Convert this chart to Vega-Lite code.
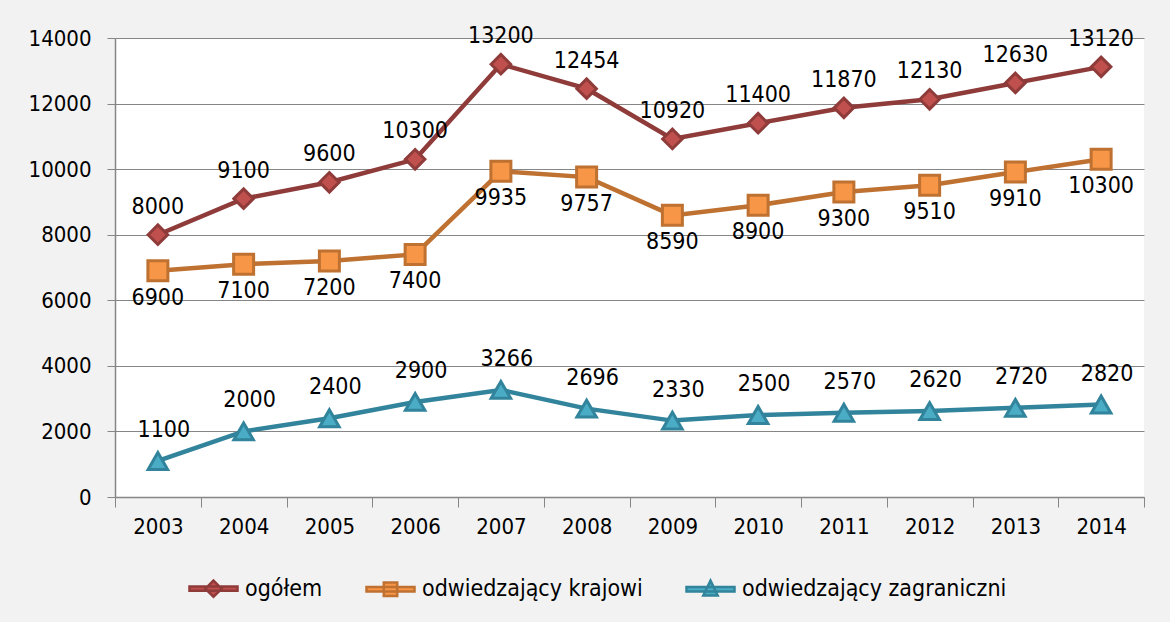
{
  "$schema": "https://vega.github.io/schema/vega-lite/v6.json",
  "width": 1029,
  "height": 459,
  "autosize": {"type": "none"},
  "padding": {"left": 115, "top": 38, "right": 26, "bottom": 125},
  "background": "#f2f2f2",
  "title": {
    "text": "Liczba odwiedzających Muzeum (w tysiącach)",
    "fontSize": 22,
    "fontWeight": "bold",
    "font": "DejaVu Sans Condensed",
    "baseline": "alphabetic",
    "offset": 37,
    "anchor": "middle",
    "dx": -30,
    "color": "#000000"
  },
  "config": {
    "font": "DejaVu Sans Condensed",
    "view": {"fill": "#ffffff", "stroke": null},
    "axis": {
      "labelFont": "DejaVu Sans Condensed",
      "labelFontSize": 22,
      "labelColor": "#000000",
      "domainColor": "#868686",
      "tickColor": "#868686",
      "gridColor": "#868686",
      "gridWidth": 1,
      "domainWidth": 1.5,
      "title": null
    },
    "legend": {
      "labelFont": "DejaVu Sans Condensed",
      "labelFontSize": 23,
      "labelColor": "#000000",
      "labelLimit": 0
    }
  },
  "data": {
    "values": [
      {"year": "2003", "series": "ogółem", "value": 8000},
      {"year": "2004", "series": "ogółem", "value": 9100},
      {"year": "2005", "series": "ogółem", "value": 9600},
      {"year": "2006", "series": "ogółem", "value": 10300},
      {"year": "2007", "series": "ogółem", "value": 13200},
      {"year": "2008", "series": "ogółem", "value": 12454},
      {"year": "2009", "series": "ogółem", "value": 10920},
      {"year": "2010", "series": "ogółem", "value": 11400},
      {"year": "2011", "series": "ogółem", "value": 11870},
      {"year": "2012", "series": "ogółem", "value": 12130},
      {"year": "2013", "series": "ogółem", "value": 12630},
      {"year": "2014", "series": "ogółem", "value": 13120},
      {"year": "2003", "series": "odwiedzający krajowi", "value": 6900},
      {"year": "2004", "series": "odwiedzający krajowi", "value": 7100},
      {"year": "2005", "series": "odwiedzający krajowi", "value": 7200},
      {"year": "2006", "series": "odwiedzający krajowi", "value": 7400},
      {"year": "2007", "series": "odwiedzający krajowi", "value": 9935},
      {"year": "2008", "series": "odwiedzający krajowi", "value": 9757},
      {"year": "2009", "series": "odwiedzający krajowi", "value": 8590},
      {"year": "2010", "series": "odwiedzający krajowi", "value": 8900},
      {"year": "2011", "series": "odwiedzający krajowi", "value": 9300},
      {"year": "2012", "series": "odwiedzający krajowi", "value": 9510},
      {"year": "2013", "series": "odwiedzający krajowi", "value": 9910},
      {"year": "2014", "series": "odwiedzający krajowi", "value": 10300},
      {"year": "2003", "series": "odwiedzający zagraniczni", "value": 1100},
      {"year": "2004", "series": "odwiedzający zagraniczni", "value": 2000},
      {"year": "2005", "series": "odwiedzający zagraniczni", "value": 2400},
      {"year": "2006", "series": "odwiedzający zagraniczni", "value": 2900},
      {"year": "2007", "series": "odwiedzający zagraniczni", "value": 3266},
      {"year": "2008", "series": "odwiedzający zagraniczni", "value": 2696},
      {"year": "2009", "series": "odwiedzający zagraniczni", "value": 2330},
      {"year": "2010", "series": "odwiedzający zagraniczni", "value": 2500},
      {"year": "2011", "series": "odwiedzający zagraniczni", "value": 2570},
      {"year": "2012", "series": "odwiedzający zagraniczni", "value": 2620},
      {"year": "2013", "series": "odwiedzający zagraniczni", "value": 2720},
      {"year": "2014", "series": "odwiedzający zagraniczni", "value": 2820}
    ]
  },
  "encoding": {
    "x": {
      "field": "year",
      "type": "ordinal",
      "scale": {"paddingInner": 0, "paddingOuter": 0},
      "axis": {
        "labelAngle": 0,
        "tickBand": "extent",
        "tickSize": 10,
        "labelPadding": 9,
        "grid": false
      }
    },
    "y": {
      "field": "value",
      "type": "quantitative",
      "scale": {"domain": [0, 14000]},
      "axis": {
        "values": [0, 2000, 4000, 6000, 8000, 10000, 12000, 14000],
        "format": "d",
        "tickSize": 8,
        "labelPadding": 16,
        "grid": true
      }
    }
  },
  "layer": [
    {
      "mark": {"type": "line", "strokeWidth": 4.5},
      "encoding": {
        "stroke": {
          "field": "series",
          "type": "nominal",
          "scale": {
            "domain": ["ogółem", "odwiedzający krajowi", "odwiedzający zagraniczni"],
            "range": ["#8e3b3a", "#be7130", "#31849b"]
          },
          "legend": {
            "title": null,
            "orient": "none",
            "legendX": 73,
            "legendY": 525,
            "direction": "horizontal",
            "symbolSize": 2304,
            "symbolStrokeWidth": 2.5,
            "columnPadding": 38,
            "labelOffset": 6,
            "labelLimit": 0,
            "encode": {
              "symbols": {
                "update": {
                  "shape": {
                    "signal": "datum.value === 'ogółem' ? 'M-1,-0.09H1V0.09H-1Z M0,-0.34L0.34,0L0,0.34L-0.34,0Z' : datum.value === 'odwiedzający krajowi' ? 'M-1,-0.09H1V0.09H-1Z M-0.28,-0.28H0.28V0.28H-0.28Z' : 'M-1,-0.09H1V0.09H-1Z M0,-0.36L0.3,0.26H-0.3Z'"
                  }
                }
              }
            }
          }
        }
      }
    },
    {
      "transform": [{"filter": "datum.series === 'ogółem'"}],
      "mark": {"type": "point", "shape": "diamond", "filled": true, "strokeWidth": 3, "opacity": 1, "size": 380},
      "encoding": {
        "stroke": {"field": "series", "type": "nominal"},
        "fill": {
          "field": "series",
          "type": "nominal",
          "scale": {
            "domain": ["ogółem", "odwiedzający krajowi", "odwiedzający zagraniczni"],
            "range": ["#c0504d", "#f79646", "#4bacc6"]
          }
        }
      }
    },
    {
      "transform": [{"filter": "datum.series === 'odwiedzający krajowi'"}],
      "mark": {"type": "point", "shape": "square", "filled": true, "strokeWidth": 3, "opacity": 1, "size": 400},
      "encoding": {
        "stroke": {"field": "series", "type": "nominal"},
        "fill": {"field": "series", "type": "nominal"}
      }
    },
    {
      "transform": [{"filter": "datum.series === 'odwiedzający zagraniczni'"}],
      "mark": {"type": "point", "shape": "triangle-up", "filled": true, "strokeWidth": 3, "opacity": 1, "size": 380},
      "encoding": {
        "stroke": {"field": "series", "type": "nominal"},
        "fill": {"field": "series", "type": "nominal"}
      }
    },
    {
      "transform": [{"filter": "datum.series === 'ogółem'"}],
      "mark": {"type": "text", "dy": -28, "fontSize": 23, "color": "#000000"},
      "encoding": {"text": {"field": "value", "type": "quantitative", "format": "d"}}
    },
    {
      "transform": [{"filter": "datum.series === 'odwiedzający krajowi'"}],
      "mark": {"type": "text", "dy": 27, "fontSize": 23, "color": "#000000"},
      "encoding": {"text": {"field": "value", "type": "quantitative", "format": "d"}}
    },
    {
      "transform": [{"filter": "datum.series === 'odwiedzający zagraniczni'"}],
      "mark": {"type": "text", "dy": -31, "dx": 6, "fontSize": 23, "color": "#000000"},
      "encoding": {"text": {"field": "value", "type": "quantitative", "format": "d"}}
    }
  ]
}
